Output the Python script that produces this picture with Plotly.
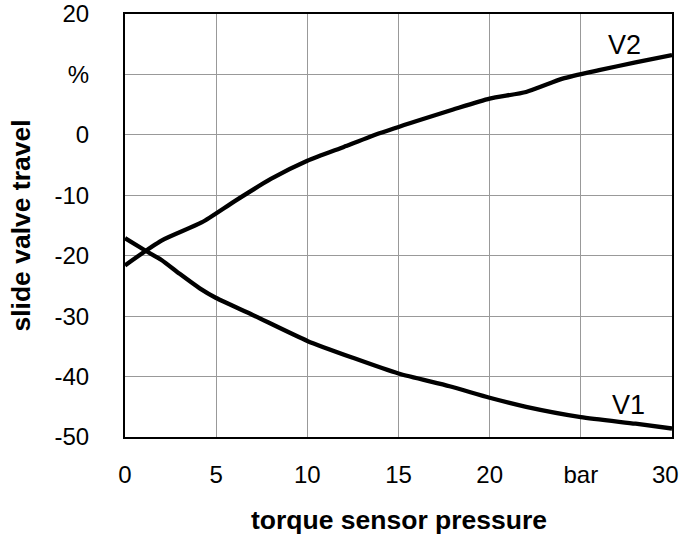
import plotly.graph_objects as go

v2_x = [0, 2, 4.2, 6, 8, 10, 12, 14, 16, 18, 20, 22, 24, 26, 28, 30]
v2_y = [-21.6, -17.5, -14.5, -11.0, -7.3, -4.3, -2.0, 0.3, 2.3, 4.2, 6.0, 7.1, 9.3, 10.7, 12.0, 13.2]

v1_x = [0, 1.2, 2, 3, 4.1, 5, 7, 10, 12.5, 15, 17.8, 20, 22, 25, 28, 30]
v1_y = [-17.1, -19.3, -20.7, -23.0, -25.4, -27.0, -29.8, -34.1, -36.9, -39.5, -41.6, -43.5, -45.0, -46.7, -47.8, -48.6]

x_tickvals = [0, 5, 10, 15, 20, 25, 30]
x_ticktext = ["0", "5", "10", "15", "20", "bar", "30&nbsp;&nbsp;"]
y_tickvals = [20, 10, 0, -10, -20, -30, -40, -50]
y_ticktext = ["20", "%", "0", "-10", "-20", "-30", "-40", "-50"]

series_labels = ["V2", "V1"]
label_pos = [(27.4, 14.9), (27.6, -44.7)]

x_title = "torque sensor pressure"
y_title = "slide valve travel"

FONT = "Liberation Sans, Arial, sans-serif"

fig = go.Figure()
fig.add_trace(go.Scatter(x=v2_x, y=v2_y, mode="lines", line=dict(color="black", width=4.3, shape="spline", smoothing=0.6), name="V2"))
fig.add_trace(go.Scatter(x=v1_x, y=v1_y, mode="lines", line=dict(color="black", width=4.3, shape="spline", smoothing=0.6), name="V1"))

for lab, (lx, ly) in zip(series_labels, label_pos):
    fig.add_annotation(x=lx, y=ly, text=lab, showarrow=False, font=dict(family=FONT, size=27, color="black"))

fig.add_annotation(x=0.5, y=-83 / 423, xref="paper", yref="paper", xanchor="center", yanchor="middle",
                   text="<b>" + x_title + "</b>", showarrow=False,
                   font=dict(family=FONT, size=26.5, color="black"))

fig.update_layout(
    width=683, height=537,
    margin=dict(l=125, r=11, t=14, b=100),
    plot_bgcolor="white", paper_bgcolor="white",
    showlegend=False,
    font=dict(family=FONT, color="black", size=24),
)
fig.update_xaxes(
    range=[0, 30], tickvals=x_tickvals, ticktext=x_ticktext,
    showgrid=True, gridcolor="#999999", gridwidth=1,
    showline=True, linecolor="black", linewidth=2, mirror=True,
    ticks="", ticklabelstandoff=15, ticklabeloverflow="allow", zeroline=False,
    automargin=False,
    tickfont=dict(family=FONT, size=24, color="black"),
)
fig.update_yaxes(
    range=[-50, 20], tickvals=y_tickvals, ticktext=y_ticktext,
    showgrid=True, gridcolor="#999999", gridwidth=1,
    showline=True, linecolor="black", linewidth=2, mirror=True,
    ticks="", ticklabelstandoff=29, ticklabeloverflow="allow", zeroline=False,
    automargin=False,
    tickfont=dict(family=FONT, size=24, color="black"),
    title=dict(text="<b>" + y_title + "</b>", font=dict(family=FONT, size=26.5, color="black"), standoff=16),
)

fig.write_html("out.html")
